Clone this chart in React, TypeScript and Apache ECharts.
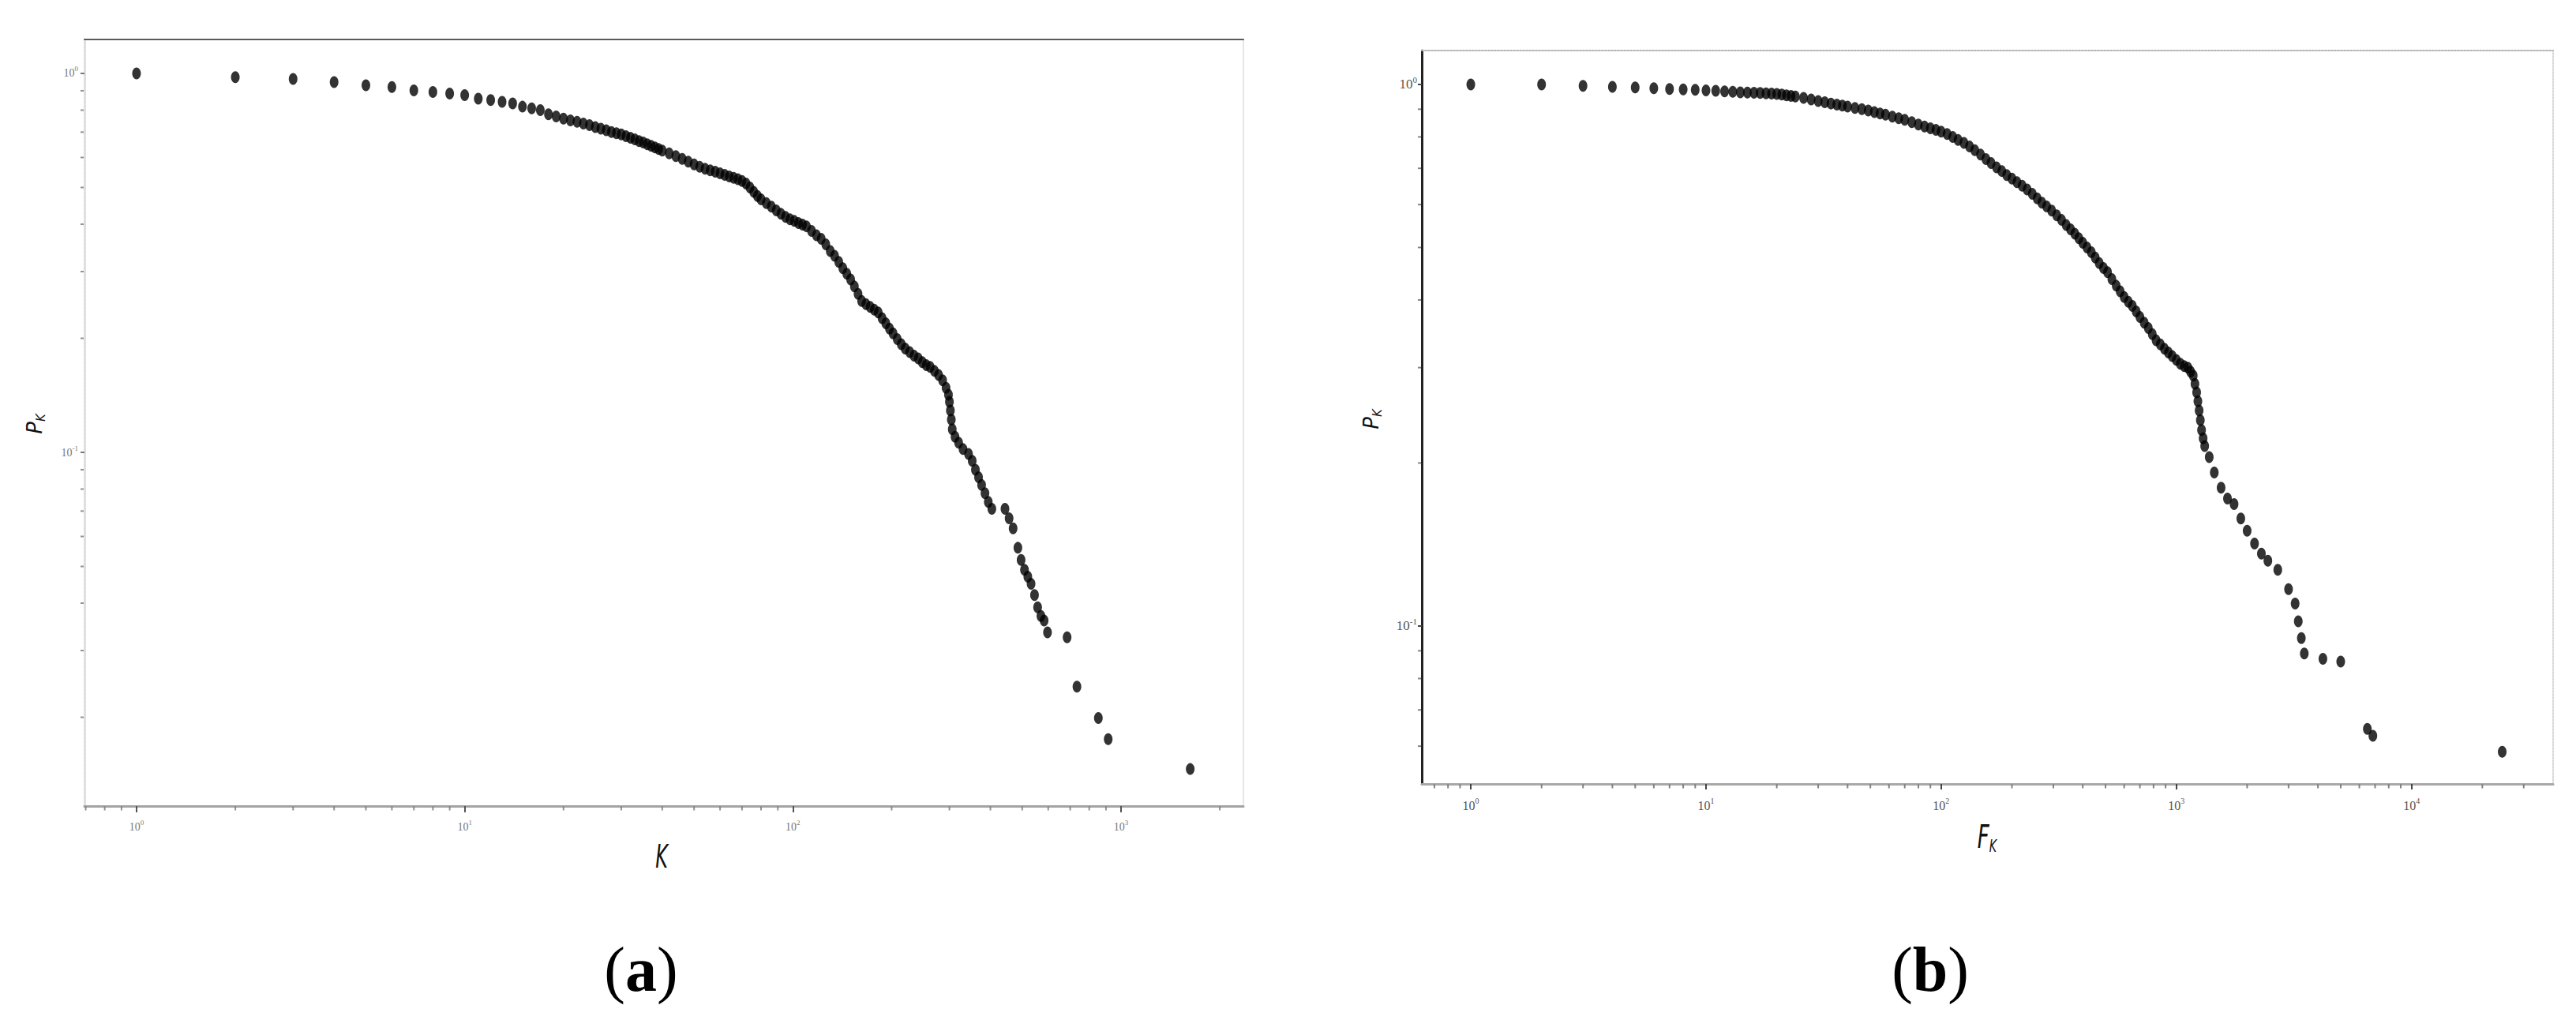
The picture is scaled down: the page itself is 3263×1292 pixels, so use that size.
import React, { useEffect, useRef } from "react";
import * as echarts from "echarts";

// ---------- panel (a): K vs P_K ----------
const kValues = [
  1, 2, 3, 4, 5, 6, 7, 8, 9, 10, 11, 12, 13, 14, 15, 16, 17,
  18, 19, 20, 21, 22, 23, 24, 25, 26, 27, 28, 29, 30, 31, 32, 33, 34, 35, 36, 37, 38, 39, 40,
  42, 44, 46, 48, 50, 52, 54, 56, 58, 60, 62, 64, 66, 68, 70, 72, 74, 76, 78, 80,
  83, 86, 89, 92, 95, 98, 101, 104, 107, 110, 114, 118, 122, 126, 130, 134, 138, 142, 146, 150,
  154, 158, 162, 167, 172, 177, 182, 187, 192, 197, 202, 208, 214, 220, 227, 234, 241, 248, 255,
  262, 270, 278, 286, 293, 298, 300, 302, 304, 306, 312, 320, 330, 343, 352, 360, 368, 376, 385,
  394, 404, 443, 456, 469, 485, 496, 508, 520, 532, 545, 557, 570, 583, 597, 685, 734, 853, 914, 1625,
];
const pkValues = [
  1.0, 0.977, 0.967, 0.948, 0.93, 0.92, 0.902, 0.893, 0.885, 0.876, 0.858, 0.85, 0.841, 0.833, 0.817, 0.809, 0.8,
  0.78, 0.77, 0.76, 0.752, 0.745, 0.737, 0.73, 0.722, 0.715, 0.708, 0.7, 0.695, 0.69, 0.683, 0.676, 0.67, 0.663, 0.657, 0.65, 0.644, 0.638, 0.632, 0.626,
  0.615, 0.605, 0.595, 0.585, 0.575, 0.567, 0.56, 0.555, 0.55, 0.545, 0.54, 0.535, 0.53, 0.526, 0.52, 0.512, 0.5, 0.487, 0.475, 0.465,
  0.455, 0.445, 0.435, 0.426, 0.418, 0.412, 0.408, 0.403, 0.399, 0.395, 0.384, 0.374, 0.366, 0.354, 0.34, 0.33, 0.318, 0.306, 0.296, 0.286,
  0.274, 0.262, 0.251, 0.246, 0.242, 0.238, 0.234, 0.226, 0.219, 0.212, 0.206, 0.199, 0.193, 0.188, 0.184, 0.18, 0.177, 0.173, 0.17,
  0.168, 0.164, 0.16, 0.155, 0.148, 0.142, 0.136, 0.129, 0.122, 0.115, 0.11, 0.106, 0.102, 0.099, 0.095, 0.09, 0.086, 0.082, 0.078,
  0.074, 0.071, 0.071, 0.067, 0.063, 0.056, 0.052, 0.049, 0.047, 0.045, 0.042, 0.039, 0.037, 0.036, 0.0335, 0.0325, 0.0241, 0.0199, 0.0175, 0.0146,
];

// ---------- panel (b): F_K vs P_K ----------
const fValues = [
  1, 2, 3, 4, 5, 6, 7, 8, 9, 10, 11, 12, 13, 14, 15, 16, 17, 18, 19, 20,
  21, 22, 23, 24, 26, 28, 30, 32, 34, 36, 38, 40, 43, 46, 49, 52, 55, 58, 62, 66, 70, 75, 80, 85, 90, 95,
  100, 106, 112, 118, 125, 132, 139, 147, 155, 163, 172, 181, 190, 200, 210, 221, 232, 244, 256, 268, 281, 295,
  310, 325, 340, 355, 370, 385, 400, 417, 435, 452, 470, 490, 510, 532, 555, 577, 600, 625, 650, 675, 700, 730,
  760, 790, 820, 855, 890, 925, 960, 1000, 1040, 1080, 1120, 1150, 1180, 1200, 1220, 1235, 1250, 1265, 1280, 1300, 1320,
  1380, 1450, 1550, 1650, 1760, 1880, 2000, 2150, 2300, 2450, 2700, 3000, 3200, 3300, 3400, 3500, 4200, 5000, 6490, 6850, 24300,
];
const pfValues = [
  1.0, 1.0, 0.994, 0.99, 0.987, 0.984, 0.981, 0.979, 0.977, 0.975, 0.973, 0.971, 0.969, 0.967, 0.966, 0.965, 0.964, 0.963, 0.962, 0.96,
  0.958, 0.955, 0.952, 0.95, 0.944, 0.938, 0.932, 0.927, 0.922, 0.918, 0.914, 0.91, 0.905, 0.9, 0.895, 0.889, 0.884, 0.879, 0.872, 0.866, 0.86, 0.852, 0.843, 0.836, 0.83, 0.824,
  0.818, 0.81, 0.8, 0.79, 0.78, 0.768, 0.756, 0.742, 0.728, 0.716, 0.703, 0.692, 0.68, 0.67, 0.66, 0.65, 0.64, 0.628, 0.616, 0.605, 0.595, 0.585,
  0.573, 0.562, 0.55, 0.54, 0.53, 0.52, 0.51, 0.5, 0.49, 0.479, 0.468, 0.458, 0.45, 0.437, 0.425, 0.415, 0.405, 0.397, 0.39, 0.381, 0.372, 0.363,
  0.355, 0.346, 0.337, 0.331, 0.325, 0.32, 0.315, 0.31, 0.305, 0.302, 0.3, 0.295, 0.29, 0.28, 0.27, 0.26, 0.25, 0.24, 0.23, 0.222, 0.215,
  0.205, 0.192, 0.18, 0.172, 0.168, 0.158, 0.15, 0.142, 0.136, 0.132, 0.127, 0.117, 0.11, 0.102, 0.095, 0.089, 0.087, 0.086, 0.0646, 0.0627, 0.0586,
];

// ---------- axis ranges & ticks ----------
const xRangeA = [0.694, 2360];
const yRangeA = [0.01166, 1.229];
const xRangeB = [0.619, 40000];
const yRangeB = [0.0511, 1.155];

const minorXA = [0.7, 0.8, 0.9, 2, 3, 4, 5, 6, 7, 8, 9, 20, 30, 40, 50, 60, 70, 80, 90, 200, 300, 400, 500, 600, 700, 800, 900, 2000];
const minorYA = [0.02, 0.03, 0.04, 0.05, 0.06, 0.07, 0.08, 0.09, 0.2, 0.3, 0.4, 0.5, 0.6, 0.7, 0.8, 0.9];
const minorXB = [0.7, 0.8, 0.9, 2, 3, 4, 5, 6, 7, 8, 9, 20, 30, 40, 50, 60, 70, 80, 90, 200, 300, 400, 500, 600, 700, 800, 900,
  2000, 3000, 4000, 5000, 6000, 7000, 8000, 9000, 20000, 30000];
const minorYB = [0.06, 0.07, 0.08, 0.09, 0.2, 0.3, 0.4, 0.5, 0.6, 0.7, 0.8, 0.9];

const zip = (a: number[], b: number[]) => a.map((v, i) => [v, b[i]]);

function powLabel(size: number, color: string, font: string) {
  return {
    formatter: (v: number) => `{b|10}{s|${Math.round(Math.log10(v))}}`,
    rich: {
      b: { fontSize: size, fontFamily: font, color, lineHeight: size + 6 },
      s: { fontSize: Math.round(size * 0.62), fontFamily: font, color, lineHeight: Math.round(size * 0.7), verticalAlign: "top" },
    },
  };
}

function buildOption() {
  const serifFont = "Liberation Serif";
  const mainAxisCommon = { type: "log", logBase: 10, splitLine: { show: false } };
  const borderAxis = (gridIndex: number, position: string, color: string, width: number, dashed: boolean) => ({
    type: "value",
    gridIndex,
    position,
    axisLine: { show: true, onZero: false, lineStyle: { color, width, type: dashed ? [2, 2] : "solid" } },
    axisTick: { show: false },
    axisLabel: { show: false },
    splitLine: { show: false },
  });

  const tickSeries = (xi: number, yi: number, data: number[][], size: number[], offset: number[], color: string) => ({
    type: "scatter",
    xAxisIndex: xi,
    yAxisIndex: yi,
    data,
    symbol: "rect",
    symbolSize: size,
    symbolOffset: offset,
    itemStyle: { color },
    clip: false,
    silent: true,
    z: 1,
  });

  const dotSeries = (xi: number, yi: number, data: number[][]) => ({
    type: "scatter",
    xAxisIndex: xi,
    yAxisIndex: yi,
    data,
    symbol: "circle",
    symbolSize: [11, 15],
    itemStyle: { color: "#000" },
    z: 5,
  });

  const subLabel = (main: string, x: number, y: number, rot: number, mainSize: number, subSize: number, sx: number) => ({
    type: "text",
    x,
    y,
    rotation: rot,
    scaleX: sx,
    style: {
      text: `{m|${main}}{k|K}`,
      textAlign: "center",
      textVerticalAlign: "middle",
      rich: {
        m: { font: `italic ${mainSize}px "DejaVu Sans"`, fill: "#111", lineHeight: mainSize + 4 },
        k: { font: `italic ${subSize}px "DejaVu Sans"`, fill: "#111", lineHeight: subSize + 1, verticalAlign: "bottom" },
      },
    },
  });

  const panelTag = (letter: string, x: number) => ({
    type: "text",
    x,
    y: 1228,
    style: {
      text: `{n|(}{b|${letter}}{n|)}`,
      textAlign: "center",
      textVerticalAlign: "middle",
      rich: {
        n: { font: '80px "Liberation Serif"', fill: "#000" },
        b: { font: 'bold 80px "Liberation Serif"', fill: "#000" },
      },
    },
  });

  return {
    animation: false,
    backgroundColor: "#ffffff",
    grid: [
      { left: 107, top: 50, width: 1468, height: 971 },
      { left: 1801, top: 64, width: 1433, height: 929 },
    ],
    xAxis: [
      {
        ...mainAxisCommon,
        gridIndex: 0,
        position: "bottom",
        min: xRangeA[0],
        max: xRangeA[1],
        axisLine: { show: true, onZero: false, lineStyle: { color: "#a3a3a3", width: 3 } },
        axisTick: { show: true, length: 8, lineStyle: { color: "#555", width: 2 } },
        axisLabel: { ...powLabel(14, "#777", serifFont), margin: 16, showMinLabel: false, showMaxLabel: false },
      },
      borderAxis(0, "top", "#5a5a5a", 2, false),
      {
        ...mainAxisCommon,
        gridIndex: 1,
        position: "bottom",
        min: xRangeB[0],
        max: xRangeB[1],
        axisLine: { show: true, onZero: false, lineStyle: { color: "#a8a8a8", width: 3 } },
        axisTick: { show: true, length: 7, lineStyle: { color: "#444", width: 2 } },
        axisLabel: { ...powLabel(16, "#555", serifFont), margin: 16, showMinLabel: false, showMaxLabel: false },
      },
      borderAxis(1, "top", "#b5b5b5", 2, true),
    ],
    yAxis: [
      {
        ...mainAxisCommon,
        gridIndex: 0,
        position: "left",
        min: yRangeA[0],
        max: yRangeA[1],
        axisLine: { show: true, onZero: false, lineStyle: { color: "#dedede", width: 3, type: [3, 2] } },
        axisTick: { show: true, length: 5, lineStyle: { color: "#777", width: 2 } },
        axisLabel: { ...powLabel(14, "#777", serifFont), margin: 8, showMinLabel: false, showMaxLabel: false },
      },
      borderAxis(0, "right", "#e6e6e6", 2, false),
      {
        ...mainAxisCommon,
        gridIndex: 1,
        position: "left",
        min: yRangeB[0],
        max: yRangeB[1],
        axisLine: { show: true, onZero: false, lineStyle: { color: "#222", width: 3 } },
        axisTick: { show: true, length: 5, lineStyle: { color: "#444", width: 2 } },
        axisLabel: { ...powLabel(17, "#555", serifFont), margin: 6, showMinLabel: false, showMaxLabel: false },
      },
      borderAxis(1, "right", "#d8d8d8", 2, true),
    ],
    series: [
      dotSeries(0, 0, zip(kValues, pkValues)),
      dotSeries(2, 2, zip(fValues, pfValues)),
      tickSeries(0, 0, minorXA.map((v) => [v, yRangeA[0]]), [2, 5], [0, 3], "#777"),
      tickSeries(0, 0, minorYA.map((v) => [xRangeA[0], v]), [4, 2], [-3, 0], "#777"),
      tickSeries(2, 2, minorXB.map((v) => [v, yRangeB[0]]), [2, 5], [0, 3], "#666"),
      tickSeries(2, 2, minorYB.map((v) => [xRangeB[0], v]), [4, 2], [-3, 0], "#666"),
    ],
    graphic: [
      {
        type: "text",
        x: 838,
        y: 1085,
        scaleX: 0.6,
        style: { text: "K", font: 'italic 40px "DejaVu Sans"', fill: "#111", textAlign: "center", textVerticalAlign: "middle" },
      },
      subLabel("P", 44, 537, Math.PI / 2, 26, 15, 1),
      subLabel("P", 1737, 531, Math.PI / 2, 26, 15, 1),
      subLabel("F", 2517, 1060, 0, 40, 22, 0.65),
      panelTag("a", 812),
      panelTag("b", 2445),
    ],
  };
}

export default function App() {
  const ref = useRef<HTMLDivElement>(null);
  useEffect(() => {
    if (!ref.current) return;
    const chart = echarts.init(ref.current, null, { renderer: "svg" });
    chart.setOption(buildOption() as any);
    return () => chart.dispose();
  }, []);
  return (
    <div
      ref={ref}
      style={{ position: "fixed", left: 0, top: 0, width: 3263, height: 1292, background: "#fff" }}
    />
  );
}
